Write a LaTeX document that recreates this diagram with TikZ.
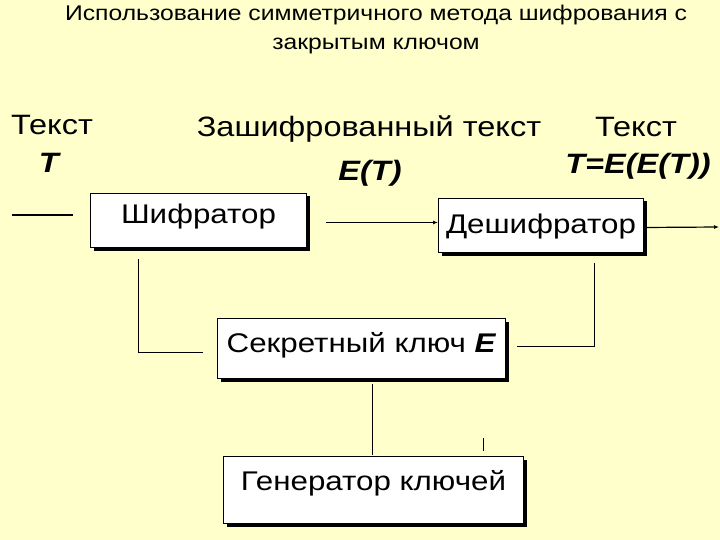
\documentclass[tikz,border=0pt]{standalone}
\usepackage{fontspec}
\setmainfont[FakeStretch=1.16]{Liberation Sans}
\definecolor{fonSlajda}{RGB}{255, 255, 204}
\usetikzlibrary{arrows.meta, shadows}

\begin{document}
\begin{tikzpicture}[x=1pt, y=-1pt,
    blok/.style={draw, fill=white, line width=1pt, inner xsep=0pt, inner ysep=0pt,
        anchor=north west, font=\fontsize{27}{32}\selectfont,
        drop shadow={shadow xshift=3pt, shadow yshift=-3pt, fill=black, opacity=1}},
    nadpis/.style={anchor=base, inner sep=0pt, font=\fontsize{28}{32}\selectfont},
    svyaz/.style={line width=1.2pt},
    pil/.style={svyaz, -{Latex[length=5pt, width=4pt]}}]
    % Background
    \fill[fonSlajda] (0,0) rectangle (720,540);
    \useasboundingbox (0,0) rectangle (720,540);

    % Title
    \node[anchor=north, align=center, inner sep=0pt, font=\fontsize{21.3}{28.5}\selectfont]
        (zagolovok) at (376,5) {Использование симметричного метода шифрования с\\закрытым ключом};

    % Labels
    \node[nadpis] (tekstA) at (52,135) {Текст};
    \node[nadpis] (tekstAT) at (50,173) {\textbf{\textit{T}}};
    \node[nadpis] (tekstB) at (369,137) {Зашифрованный текст};
    \node[nadpis] (tekstBT) at (370,181) {\textbf{\textit{E(T)}}};
    \node[nadpis] (tekstC) at (636,137) {Текст};
    \node[nadpis] (tekstCT) at (638,174) {\textbf{\textit{T=E(E(T))}}};

    % Blocks
    \node[blok, minimum width=216pt, text height=30pt, text depth=24pt]
        (shifrator) at (90,193) {Шифратор};
    \node[blok, minimum width=205pt, text height=35pt, text depth=19pt]
        (deshifrator) at (438,198) {Дешифратор};
    \node[blok, minimum width=288pt, text height=34pt, text depth=26pt]
        (kluch) at (217,318) {Секретный ключ \textbf{\textit{E}}};
    \node[blok, minimum width=300pt, text height=34pt, text depth=33pt]
        (generator) at (223,456) {Генератор ключей};

    % Connectors
    \coordinate (vhod) at (12,215);
    \coordinate (vyhod) at (719,227);
    \draw[svyaz, shorten >=17pt] (vhod) -- (vhod -| shifrator.west);
    \draw[pil, shorten <=19pt] ([yshift=-2pt]shifrator.east) -- ([yshift=3pt]deshifrator.west);
    \draw[pil] ([yshift=-2pt]deshifrator.east) -- (vyhod);
    \draw[svyaz, shorten <=11pt, shorten >=14pt] ([xshift=-60pt]shifrator.south) |- ([yshift=-4pt]kluch.west);
    \draw[svyaz, shorten <=10pt, shorten >=11pt] ([xshift=53.5pt]deshifrator.south) |- ([yshift=2pt]kluch.east);
    \draw[svyaz, shorten <=5pt, shorten >=1pt] ([xshift=11pt]kluch.south) -- ([xshift=-1pt]generator.north);
    \draw[svyaz, shorten >=5pt] ([xshift=110pt, yshift=18pt]generator.north) -- ([xshift=110pt]generator.north);
\end{tikzpicture}
\end{document}
